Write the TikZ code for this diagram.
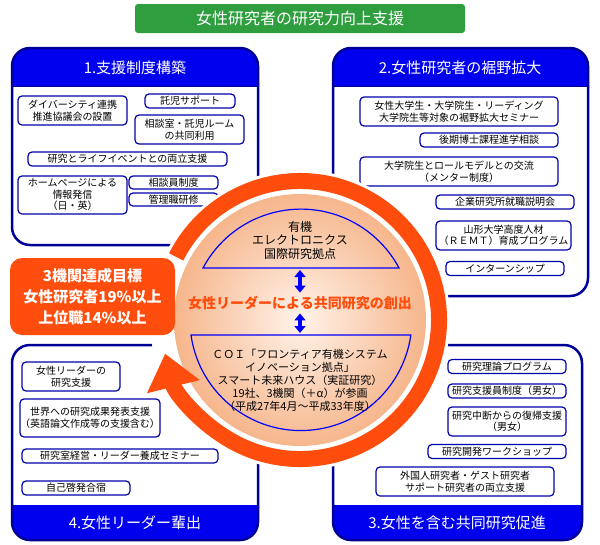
\documentclass[tikz,border=0pt]{standalone}
\usepackage{fontspec}
\setmainfont{Noto Sans CJK JP}
\usetikzlibrary{arrows.meta}
\definecolor{panelblue}{HTML}{000099}
\definecolor{headblue}{HTML}{0000EE}
\definecolor{itemblue}{HTML}{0000AA}
\definecolor{titlegreen}{HTML}{2E9E3F}
\definecolor{ringorange}{HTML}{FF4D0D}
\definecolor{diskin}{HTML}{FFF3EA}
\definecolor{diskout}{HTML}{F6B68C}
\tikzset{
  item/.style={draw=itemblue, line width=1.2pt, rounded corners=4pt, fill=white,
    align=center, inner sep=0pt, font=\fontsize{10}{11.5}\selectfont},
  headtext/.style={text=white, font=\fontsize{15}{17}\selectfont},
}
% panel: x1, y1, x2, y2, header top, header bottom
\newcommand{\panelbox}[6]{%
  \begin{scope}
    \clip[rounded corners=18pt] (#1,#2) rectangle (#3,#4);
    \fill[white] (#1,#2) rectangle (#3,#4);
    \fill[headblue] (#1,#5) rectangle (#3,#6);
    \draw[panelblue, line width=1pt] (#1,#6) -- (#3,#6);
  \end{scope}
  \draw[panelblue, line width=2.5pt, rounded corners=18pt] (#1,#2) rectangle (#3,#4);}
\begin{document}
\begin{tikzpicture}[x=1pt, y=1pt]
  \useasboundingbox[fill=white] (0,0) rectangle (600,-544);
  % title
  \fill[titlegreen, rounded corners=3pt] (135,-4) rectangle (465,-33);
  \node[text=white, font=\fontsize{16}{18}\selectfont] (title) at (300,-18.5) {女性研究者の研究力向上支援};
  % panels
  \panelbox{12}{-48}{258}{-245}{-48}{-86}
  \panelbox{333}{-48}{588}{-296}{-48}{-86}
  \panelbox{333}{-345}{582}{-540}{-505}{-540}
  \panelbox{12}{-345}{258}{-540}{-505}{-540}
  \node[headtext] (h1) at (135,-68) {1.支援制度構築};
  \node[headtext] (h2) at (460,-68) {2.女性研究者の裾野拡大};
  \node[headtext] (h3) at (457,-523) {3.女性を含む共同研究促進};
  \node[headtext] (h4) at (135,-523) {4.女性リーダー輩出};
  % panel 1
  \node[item, minimum width=109pt, minimum height=29pt] (a1) at (72.5,-110.5) {ダイバーシティ連携\\推進協議会の設置};
  \node[item, minimum width=90pt, minimum height=14pt] (a2) at (190,-101) {託児サポート};
  \node[item, minimum width=109pt, minimum height=29pt] (a3) at (189.5,-129.5) {相談室・託児ルーム\\の共同利用};
  \node[item, minimum width=199pt, minimum height=14pt] (a4) at (127.5,-159) {研究とライフイベントとの両立支援};
  \node[item, minimum width=109pt, minimum height=38pt] (a5) at (72.5,-195) {ホームページによる\\情報発信\\（日・英）};
  \node[item, minimum width=89pt, minimum height=13pt] (a6) at (173.5,-182.5) {相談員制度};
  \node[item, minimum width=89pt, minimum height=13pt] (a7) at (173.5,-199.5) {管理職研修};
  % panel 2
  \node[item, minimum width=198pt, minimum height=29pt] (b1) at (459,-111.5) {女性大学生・大学院生・リーディング\\大学院生等対象の裾野拡大セミナー};
  \node[item, minimum width=138pt, minimum height=14pt] (b2) at (489,-140) {後期博士課程進学相談};
  \node[item, minimum width=198pt, minimum height=29pt] (b3) at (459,-171.5) {大学院生とロールモデルとの交流\\（メンター制度）};
  \node[item, minimum width=138pt, minimum height=14pt] (b4) at (505,-202) {企業研究所就職説明会};
  \node[item, minimum width=135pt, minimum height=29pt] (b5) at (503.5,-235.5) {山形大学高度人材\\（ＲＥＭＴ）育成プログラム};
  \node[item, minimum width=118pt, minimum height=14pt] (b6) at (505,-268.5) {インターンシップ};
  % panel 3
  \node[item, minimum width=118pt, minimum height=14pt] (c1) at (507,-366.5) {研究理論プログラム};
  \node[item, minimum width=118pt, minimum height=14pt] (c2) at (507,-391) {研究支援員制度（男女）};
  \node[item, minimum width=118pt, minimum height=29pt] (c3) at (507,-421.5) {研究中断からの復帰支援\\（男女）};
  \node[item, minimum width=138pt, minimum height=14pt] (c4) at (497,-451.5) {研究開発ワークショップ};
  \node[item, minimum width=178pt, minimum height=29pt] (c5) at (465,-481.5) {外国人研究者・ゲスト研究者\\サポート研究者の両立支援};
  % panel 4
  \node[item, minimum width=98pt, minimum height=29pt] (d1) at (71,-376.5) {女性リーダーの\\研究支援};
  \node[item, minimum width=136pt, minimum height=38pt] (d2) at (90,-418) {世界への研究成果発表支援\\（英語論文作成等の支援含む）};
  \node[item, minimum width=196pt, minimum height=14pt] (d3) at (120,-456) {研究室経営・リーダー養成セミナー};
  \node[item, minimum width=108pt, minimum height=14pt] (d4) at (76,-488) {自己啓発合宿};
  % centre disk and ring
  \coordinate (hub) at (300,-320);
  \fill[white] (hub) circle (150);
  \shade[inner color=diskin, outer color=diskout] (hub) circle (126);
  \draw[ringorange, line width=16pt, -{Triangle[length=34pt, width=52pt]}]
    ([shift={(153:139)}]hub) arc[start angle=153, end angle=-166, radius=139];
  \draw[blue, line width=1.2pt] (203,-268) arc[start angle=152, end angle=28, radius=111] -- cycle;
  \draw[blue, line width=1.2pt] (191,-335) arc[start angle=-172, end angle=-8, radius=111] -- cycle;
  \node[align=center, font=\fontsize{12}{13.5}\selectfont] (top) at (300,-240) {有機\\エレクトロニクス\\国際研究拠点};
  \node[align=center, font=\fontsize{11}{13}\selectfont] (coi) at (300,-380) {ＣＯＩ「フロンティア有機システム\\イノベーション拠点」\\スマート未来ハウス（実証研究）\\19社、3機関（＋α）が参画\\（平成27年4月～平成33年度）};
  \node[text=ringorange, font=\fontsize{14}{16}\selectfont\bfseries] (mid) at (300,-303) {女性リーダーによる共同研究の創出};
  \draw[blue, line width=4pt, {Triangle[length=7pt, width=11pt]}-{Triangle[length=7pt, width=11pt]}] (300,-270) -- (mid.north);
  \draw[blue, line width=4pt, {Triangle[length=7pt, width=11pt]}-{Triangle[length=7pt, width=11pt]}] (mid.south) -- (300,-333);
  % goal
  \node[fill=ringorange, rounded corners=12pt, minimum width=165pt, minimum height=77pt, align=center,
    text=white, font=\fontsize{15}{21}\selectfont\bfseries] (goal) at (92.5,-296.5) {3機関達成目標\\女性研究者19\%以上\\上位職14\%以上};
\end{tikzpicture}
\end{document}
